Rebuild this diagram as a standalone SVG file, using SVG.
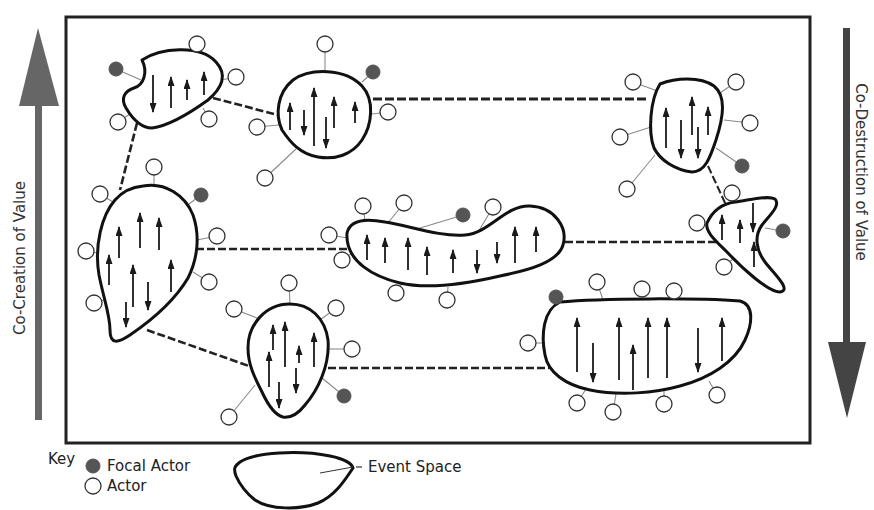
<svg xmlns="http://www.w3.org/2000/svg" width="874" height="510" viewBox="0 0 874 510">
<defs>
<marker id="ah" viewBox="0 0 10 7" refX="9" refY="3.5" markerWidth="10" markerHeight="7" markerUnits="userSpaceOnUse" orient="auto">
<path d="M0,0 L10,3.5 L0,7 z" fill="#1a1a1a"/>
</marker>
<style>
.frame{fill:#fff;stroke:#222;stroke-width:3}
.blob{fill:#fff;stroke:#111;stroke-width:3;stroke-linejoin:round}
.arr{stroke:#1a1a1a;stroke-width:1.8;fill:none;marker-end:url(#ah)}
.teth{stroke:#8a8a8a;stroke-width:1.1;fill:none}
.act{fill:#fff;stroke:#333;stroke-width:1.3}
.foc{fill:#555;stroke:#555;stroke-width:1}
.dash{stroke:#222;stroke-width:2.6;stroke-dasharray:8 3;fill:none}
.lbl{font-family:"DejaVu Sans","Liberation Sans",sans-serif;font-size:15px;fill:#222}
.side{font-family:"DejaVu Sans","Liberation Sans",sans-serif;font-size:15px;fill:#333}
</style>
</defs>
<rect x="0" y="0" width="874" height="510" fill="#fff"/>
<rect class="frame" x="66" y="17" width="744" height="426"/>

<g id="cocreation">
<rect x="35" y="104" width="7" height="316" fill="#666"/>
<polygon points="19,106 59,106 38,28" fill="#666"/>
<text class="side" transform="translate(25,258) rotate(-90)" text-anchor="middle">Co-Creation of Value</text>
</g>
<g id="codestruction">
<rect x="843" y="28" width="7" height="316" fill="#444"/>
<polygon points="828,342 866,342 847,418" fill="#444"/>
<text class="side" transform="translate(856,172) rotate(90)" text-anchor="middle">Co-Destruction of Value</text>
</g>

<g id="connectors">
<line class="dash" x1="213" y1="98" x2="278" y2="115"/>
<line class="dash" x1="137" y1="123" x2="120" y2="190"/>
<line class="dash" x1="373" y1="99" x2="648" y2="99" style="stroke-width:3;stroke-dasharray:9 3"/>
<line class="dash" x1="196" y1="249" x2="347" y2="249"/>
<line class="dash" x1="565" y1="242" x2="716" y2="242"/>
<line class="dash" x1="708" y1="166" x2="726" y2="205" style="stroke-width:2"/>
<line class="dash" x1="147" y1="330" x2="249" y2="366"/>
<line class="dash" x1="328" y1="368" x2="549" y2="368"/>
</g>

<g id="spaceA">
<line class="teth" x1="116" y1="69" x2="141" y2="80"/>
<line class="teth" x1="236" y1="77" x2="221" y2="80"/>
<line class="teth" x1="118" y1="122" x2="130" y2="114"/>
<line class="teth" x1="209" y1="119" x2="203" y2="108"/>
<path class="blob" d="M142,60 C160,48 200,44 216,62 C228,75 222,88 208,100 C190,113 168,126 152,128 C140,128 132,118 126,108 C120,98 125,91 134,88 C144,85 148,72 142,60 Z"/>
<line class="arr" x1="153" y1="75" x2="153" y2="112"/>
<line class="arr" x1="171" y1="108" x2="171" y2="77"/>
<line class="arr" x1="187" y1="100" x2="187" y2="80"/>
<line class="arr" x1="204" y1="95" x2="204" y2="72"/>
<circle class="foc" cx="116" cy="69" r="7"/>
<circle class="act" cx="197" cy="44" r="8"/>
<circle class="act" cx="236" cy="77" r="8"/>
<circle class="act" cx="118" cy="122" r="8"/>
<circle class="act" cx="209" cy="119" r="8"/>
</g>

<g id="spaceB">
<line class="teth" x1="325" y1="44" x2="325" y2="70"/>
<line class="teth" x1="373" y1="72" x2="362" y2="82"/>
<line class="teth" x1="388" y1="112" x2="372" y2="114"/>
<line class="teth" x1="257" y1="127" x2="279" y2="125"/>
<line class="teth" x1="265" y1="178" x2="296" y2="149"/>
<path class="blob" d="M293,80 C310,68 345,68 362,86 C375,100 372,125 362,140 C352,155 335,160 318,157 C300,154 290,142 282,130 C275,115 277,93 293,80 Z"/>
<line class="arr" x1="290" y1="130" x2="290" y2="103"/>
<line class="arr" x1="304" y1="110" x2="304" y2="135"/>
<line class="arr" x1="314" y1="146" x2="314" y2="88"/>
<line class="arr" x1="326" y1="117" x2="326" y2="148"/>
<line class="arr" x1="334" y1="128" x2="334" y2="97"/>
<line class="arr" x1="355" y1="123" x2="355" y2="102"/>
<circle class="act" cx="325" cy="44" r="8"/>
<circle class="foc" cx="373" cy="72" r="7"/>
<circle class="act" cx="388" cy="112" r="8"/>
<circle class="act" cx="257" cy="127" r="8"/>
<circle class="act" cx="265" cy="178" r="8"/>
</g>

<g id="spaceC">
<line class="teth" x1="633" y1="82" x2="660" y2="92"/>
<line class="teth" x1="736" y1="82" x2="720" y2="93"/>
<line class="teth" x1="750" y1="123" x2="724" y2="120"/>
<line class="teth" x1="620" y1="137" x2="651" y2="127"/>
<line class="teth" x1="742" y1="166" x2="716" y2="148"/>
<line class="teth" x1="627" y1="189" x2="655" y2="155"/>
<path class="blob" d="M660,84 C675,78 700,76 714,86 C726,96 724,115 716,140 C710,158 705,172 692,172 C675,170 660,160 654,148 C648,132 650,100 660,84 Z"/>
<line class="arr" x1="666" y1="148" x2="666" y2="108"/>
<line class="arr" x1="681" y1="120" x2="681" y2="158"/>
<line class="arr" x1="692" y1="135" x2="692" y2="97"/>
<line class="arr" x1="698" y1="127" x2="698" y2="158"/>
<line class="arr" x1="708" y1="135" x2="708" y2="107"/>
<circle class="act" cx="633" cy="82" r="8"/>
<circle class="act" cx="736" cy="82" r="8"/>
<circle class="act" cx="750" cy="123" r="8"/>
<circle class="act" cx="620" cy="137" r="8"/>
<circle class="foc" cx="742" cy="166" r="7"/>
<circle class="act" cx="627" cy="189" r="8"/>
</g>

<g id="spaceD">
<line class="teth" x1="724" y1="267" x2="735" y2="257"/>
<line class="teth" x1="783" y1="231" x2="765" y2="228"/>
<path class="blob" d="M707,223 C712,212 720,204 735,202 C750,200 768,195 775,199 C781,205 770,215 762,225 C754,236 756,250 765,262 C775,275 792,290 780,292 C768,292 742,268 727,252 C716,241 705,232 707,223 Z"/>
<line class="arr" x1="722" y1="240" x2="722" y2="215"/>
<line class="arr" x1="740" y1="243" x2="740" y2="220"/>
<line class="arr" x1="753" y1="203" x2="753" y2="232"/>
<line class="arr" x1="754" y1="267" x2="754" y2="242"/>
<circle class="act" cx="732" cy="193" r="8"/>
<circle class="act" cx="697" cy="223" r="8"/>
<circle class="foc" cx="783" cy="231" r="7"/>
<circle class="act" cx="724" cy="267" r="8"/>
</g>

<g id="spaceE">
<line class="teth" x1="363" y1="206" x2="365" y2="221"/>
<line class="teth" x1="404" y1="203" x2="388" y2="223"/>
<line class="teth" x1="463" y1="215" x2="417" y2="229"/>
<line class="teth" x1="493" y1="207" x2="477" y2="234"/>
<line class="teth" x1="329" y1="235" x2="348" y2="238"/>
<line class="teth" x1="342" y1="260" x2="352" y2="253"/>
<line class="teth" x1="396" y1="293" x2="403" y2="282"/>
<line class="teth" x1="447" y1="300" x2="448" y2="287"/>
<path class="blob" d="M347,233 C350,220 365,218 385,222 C410,226 440,237 465,235 C490,233 505,205 530,206 C555,207 568,228 563,245 C558,262 530,270 500,276 C470,283 430,290 400,283 C375,277 345,262 347,233 Z"/>
<line class="arr" x1="367" y1="260" x2="367" y2="235"/>
<line class="arr" x1="385" y1="263" x2="385" y2="238"/>
<line class="arr" x1="408" y1="270" x2="408" y2="238"/>
<line class="arr" x1="427" y1="275" x2="427" y2="247"/>
<line class="arr" x1="453" y1="273" x2="453" y2="250"/>
<line class="arr" x1="477" y1="250" x2="477" y2="273"/>
<line class="arr" x1="497" y1="242" x2="497" y2="263"/>
<line class="arr" x1="515" y1="263" x2="515" y2="227"/>
<line class="arr" x1="536" y1="252" x2="536" y2="227"/>
<circle class="act" cx="363" cy="206" r="8"/>
<circle class="act" cx="404" cy="203" r="8"/>
<circle class="foc" cx="463" cy="215" r="7"/>
<circle class="act" cx="493" cy="207" r="8"/>
<circle class="act" cx="329" cy="235" r="8"/>
<circle class="act" cx="342" cy="260" r="8"/>
<circle class="act" cx="396" cy="293" r="8"/>
<circle class="act" cx="447" cy="300" r="8"/>
</g>

<g id="spaceF">
<line class="teth" x1="154" y1="167" x2="154" y2="187"/>
<line class="teth" x1="100" y1="194" x2="113" y2="202"/>
<line class="teth" x1="201" y1="195" x2="185" y2="207"/>
<line class="teth" x1="217" y1="236" x2="197" y2="240"/>
<line class="teth" x1="86" y1="251" x2="98" y2="253"/>
<line class="teth" x1="209" y1="282" x2="193" y2="272"/>
<line class="teth" x1="94" y1="303" x2="104" y2="300"/>
<path class="blob" d="M143,186 C165,182 185,195 193,215 C200,235 198,258 188,278 C175,300 155,318 130,335 C118,343 110,345 110,330 C110,315 104,300 99,275 C94,245 102,215 115,200 C122,192 132,187 143,186 Z"/>
<line class="arr" x1="119" y1="258" x2="119" y2="227"/>
<line class="arr" x1="140" y1="248" x2="140" y2="213"/>
<line class="arr" x1="159" y1="250" x2="159" y2="218"/>
<line class="arr" x1="109" y1="285" x2="109" y2="255"/>
<line class="arr" x1="133" y1="307" x2="133" y2="265"/>
<line class="arr" x1="148" y1="282" x2="148" y2="310"/>
<line class="arr" x1="171" y1="292" x2="171" y2="260"/>
<line class="arr" x1="126" y1="302" x2="126" y2="327"/>
<circle class="act" cx="154" cy="167" r="8"/>
<circle class="act" cx="100" cy="194" r="8"/>
<circle class="foc" cx="201" cy="195" r="7"/>
<circle class="act" cx="217" cy="236" r="8"/>
<circle class="act" cx="86" cy="251" r="8"/>
<circle class="act" cx="209" cy="282" r="8"/>
<circle class="act" cx="94" cy="303" r="8"/>
</g>

<g id="spaceG">
<line class="teth" x1="289" y1="283" x2="290" y2="304"/>
<line class="teth" x1="234" y1="309" x2="257" y2="318"/>
<line class="teth" x1="336" y1="308" x2="320" y2="320"/>
<line class="teth" x1="352" y1="349" x2="328" y2="349"/>
<line class="teth" x1="344" y1="396" x2="322" y2="378"/>
<line class="teth" x1="229" y1="417" x2="255" y2="385"/>
<path class="blob" d="M290,304 C310,304 325,318 328,340 C330,365 318,390 305,405 C298,414 290,418 283,417 C275,415 268,405 262,392 C255,378 248,365 248,348 C248,325 265,304 290,304 Z"/>
<line class="arr" x1="273" y1="350" x2="273" y2="325"/>
<line class="arr" x1="285" y1="367" x2="285" y2="322"/>
<line class="arr" x1="314" y1="367" x2="314" y2="333"/>
<line class="arr" x1="269" y1="387" x2="269" y2="352"/>
<line class="arr" x1="299" y1="363" x2="299" y2="346"/>
<line class="arr" x1="296" y1="368" x2="296" y2="393"/>
<line class="arr" x1="279" y1="382" x2="279" y2="408"/>
<circle class="act" cx="289" cy="283" r="8"/>
<circle class="act" cx="234" cy="309" r="8"/>
<circle class="act" cx="336" cy="308" r="8"/>
<circle class="act" cx="352" cy="349" r="8"/>
<circle class="foc" cx="344" cy="396" r="7"/>
<circle class="act" cx="229" cy="417" r="8"/>
</g>

<g id="spaceH">
<line class="teth" x1="597" y1="282" x2="603" y2="300"/>
<line class="teth" x1="528" y1="343" x2="544" y2="343"/>
<line class="teth" x1="577" y1="403" x2="586" y2="389"/>
<line class="teth" x1="613" y1="412" x2="616" y2="394"/>
<line class="teth" x1="664" y1="404" x2="664" y2="390"/>
<line class="teth" x1="717" y1="395" x2="709" y2="381"/>
<path class="blob" d="M560,302 C600,298 700,298 740,301 C755,305 752,325 745,340 C735,362 710,378 680,386 C655,393 620,396 590,390 C565,385 548,372 545,355 C541,335 543,310 560,302 Z"/>
<line class="arr" x1="577" y1="372" x2="577" y2="318"/>
<line class="arr" x1="593" y1="343" x2="593" y2="382"/>
<line class="arr" x1="619" y1="380" x2="619" y2="318"/>
<line class="arr" x1="633" y1="390" x2="633" y2="345"/>
<line class="arr" x1="648" y1="378" x2="648" y2="318"/>
<line class="arr" x1="667" y1="378" x2="667" y2="318"/>
<line class="arr" x1="698" y1="328" x2="698" y2="372"/>
<line class="arr" x1="722" y1="361" x2="722" y2="318"/>
<circle class="foc" cx="556" cy="297" r="7"/>
<circle class="act" cx="597" cy="282" r="8"/>
<circle class="act" cx="642" cy="289" r="8"/>
<circle class="act" cx="674" cy="291" r="8"/>
<circle class="act" cx="528" cy="343" r="8"/>
<circle class="act" cx="577" cy="403" r="8"/>
<circle class="act" cx="613" cy="412" r="8"/>
<circle class="act" cx="664" cy="404" r="8"/>
<circle class="act" cx="717" cy="395" r="8"/>
</g>

<g id="key">
<text class="lbl" x="48" y="464">Key</text>
<circle class="foc" cx="93" cy="466" r="7"/>
<text class="lbl" x="107" y="471">Focal Actor</text>
<circle class="act" cx="93" cy="486" r="8"/>
<text class="lbl" x="107" y="491">Actor</text>
<path d="M240,462 C255,452 300,450 330,456 C345,459 352,464 353,468 C345,480 335,496 318,503 C300,510 270,510 255,500 C245,492 240,485 236,476 C233,468 235,466 240,462 Z" fill="#fff" stroke="#111" stroke-width="3"/>
<line x1="320" y1="473" x2="353" y2="467" stroke="#333" stroke-width="1"/>
<line x1="356" y1="467" x2="362" y2="467" stroke="#333" stroke-width="1.2"/>
<text class="lbl" x="368" y="472">Event Space</text>
</g>
</svg>
